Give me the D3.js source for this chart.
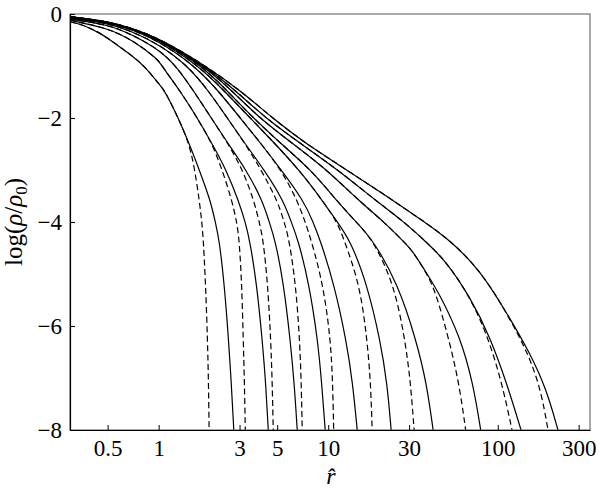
<!DOCTYPE html>
<html>
<head>
<meta charset="utf-8">
<script src="https://d3js.org/d3.v7.min.js"></script>
<style>
  body { margin: 0; background: #fff; }
  svg text { font-family: "Liberation Serif", "Times New Roman", serif; fill: #000; }
</style>
</head>
<body>
<div id="chart"></div>
<script>
// tick values
const xTicks = [0.5, 1, 3, 5, 10, 30, 100, 300];
const yTicks = [0, -2, -4, -6, -8];

// solid curves, [r, log(rho/rho0)], innermost first
const solid1 = [[0.3,-0.15],[0.355,-0.2],[0.453,-0.37],[0.519,-0.5],[0.71,-0.82],[0.823,-1],[1.037,-1.4],[1.095,-1.5],[1.307,-2],[1.517,-2.5],[1.737,-3],[2.017,-3.58],[2.159,-4],[2.279,-4.35],[2.439,-5.2],[2.585,-6.27],[2.682,-7.1],[2.774,-8]];
const solid2 = [[0.3,-0.12],[0.5,-0.27],[0.7,-0.5],[1,-0.88],[1.044,-1],[1.352,-1.5],[1.691,-2],[2.072,-2.5],[2.506,-3],[2.949,-3.58],[3.243,-4],[3.446,-4.35],[3.79,-5.2],[4.084,-6.27],[4.282,-7.1],[4.43,-8]];
const solid3 = [[0.3,-0.1],[0.5,-0.2],[0.7,-0.4],[1,-0.68],[1.271,-1],[1.623,-1.5],[2.044,-2],[2.575,-2.5],[3.287,-3],[4.084,-3.58],[4.49,-4],[4.872,-4.35],[5.468,-5.2],[5.971,-6.27],[6.305,-7.1],[6.566,-8]];
const solid4 = [[0.3,-0.085],[0.5,-0.17],[0.7,-0.34],[1,-0.58],[1.496,-1],[1.99,-1.5],[2.54,-2],[3.243,-2.5],[4.197,-3],[5.43,-3.58],[6.053,-4],[6.657,-4.35],[7.727,-5.2],[8.676,-6.27],[9.156,-7.1],[9.6,-8]];
const solid5 = [[0.3,-0.075],[0.5,-0.155],[0.7,-0.3],[1,-0.52],[1.645,-1],[2.279,-1.5],[3.03,-2],[4.029,-2.5],[5.285,-3],[7.125,-3.58],[8.158,-4],[8.974,-4.35],[10.85,-5.2],[12.77,-6.27],[13.95,-7.1],[14.83,-8]];
const solid6 = [[0.3,-0.065],[0.5,-0.15],[0.7,-0.29],[1,-0.49],[1.737,-1],[2.472,-1.5],[3.47,-2],[4.872,-2.5],[6.747,-3],[9.218,-3.58],[11.3,-4],[13.48,-4.35],[16.98,-5.2],[20.25,-6.27],[22.27,-7.1],[23.51,-8]];
const solid7 = [[0.3,-0.06],[0.5,-0.145],[0.7,-0.285],[1,-0.48],[1.809,-1],[2.575,-1.5],[3.614,-2],[5.285,-2.5],[7.941,-3],[11.15,-3.58],[14.62,-4],[18.42,-4.35],[25.85,-5.2],[33.01,-6.27],[38.06,-7.1],[41.57,-8]];
const solid8 = [[0.3,-0.055],[0.5,-0.143],[0.7,-0.283],[1,-0.47],[1.859,-1],[2.755,-1.5],[3.922,-2],[6.22,-2.5],[9.865,-3],[15.03,-3.58],[21.36,-4],[27.3,-4.35],[31.26,-4.54],[38.32,-5],[45.09,-5.37],[59.95,-6.2],[71.54,-7.1],[79.3,-8]];
const solid9 = [[0.3,-0.052],[0.5,-0.142],[0.7,-0.282],[1,-0.465],[1.884,-1],[2.909,-1.5],[4.255,-2],[6.934,-2.5],[11.46,-3],[18.92,-3.58],[28.08,-4],[36.83,-4.35],[48.95,-4.73],[68.7,-5.44],[90.08,-6.21],[113,-7.1],[137.2,-8]];
const solid10 = [[0.3,-0.05],[0.5,-0.14],[0.7,-0.28],[1,-0.46],[1.91,-1],[3.113,-1.5],[4.677,-2],[7.419,-2.5],[12.89,-3],[21.1,-3.46],[31.7,-3.85],[50.06,-4.29],[78.77,-4.92],[113,-5.75],[155,-6.52],[194.4,-7.23],[226.6,-8]];

// dashed curves follow their solid partner down to splitAt, then these tails
const splitAt = [-2.5, -2.5, -2.5, -2.5, -3, -4, -4.35, -5, -5.44, -5.75];
const tail1 = [[1.634,-3],[1.737,-3.58],[1.797,-4],[1.835,-4.35],[1.892,-5.2],[1.942,-6.27],[1.968,-7.1],[1.984,-8]];
const tail2 = [[2.373,-3],[2.7,-3.58],[2.889,-4],[2.989,-4.35],[3.092,-5.2],[3.155,-6.27],[3.207,-7.1],[3.243,-8]];
const tail3 = [[3.134,-3],[3.639,-3.58],[3.922,-4],[4.14,-4.35],[4.401,-5.2],[4.584,-6.27],[4.677,-7.1],[4.741,-8]];
const tail4 = [[4.029,-3],[5.006,-3.58],[5.505,-4],[5.891,-4.35],[6.435,-5.2],[6.793,-6.27],[6.934,-7.1],[7.029,-8]];
const tail5 = [[6.566,-3.58],[7.318,-4],[7.941,-4.35],[9.343,-5.2],[10.34,-6.27],[10.63,-7.1],[10.77,-8]];
const tail6 = [[12.43,-4.35],[15.36,-5.2],[16.98,-6.27],[17.8,-7.1],[18.17,-8]];
const tail7 = [[24.49,-5.2],[28.43,-6.27],[30.63,-7.1],[32.11,-8]];
const tail8 = [[43.29,-5.37],[51.64,-6.27],[59.15,-7.1],[64.69,-8]];
const tail9 = [[87.66,-6.21],[106,-7.1],[121.4,-8]];
const tail10 = [[150.9,-6.52],[179.9,-7.23],[197.9,-8]];

const solids = [solid1, solid2, solid3, solid4, solid5, solid6, solid7, solid8, solid9, solid10];
const tails = [tail1, tail2, tail3, tail4, tail5, tail6, tail7, tail8, tail9, tail10];
const dashed = solids.map((s, i) => s.filter(p => p[1] >= splitAt[i]).concat(tails[i]));

const width = 600, height = 489;
const m = { left: 70, right: 10, top: 14, bottom: 59 };

const svg = d3.select("#chart").append("svg")
    .attr("width", width)
    .attr("height", height);

const x = d3.scaleLog().domain([0.3, 350]).range([m.left, width - m.right]);
const y = d3.scaleLinear().domain([-8, 0]).range([height - m.bottom, m.top]);

svg.append("clipPath").attr("id", "plot")
  .append("rect")
    .attr("x", m.left).attr("y", m.top)
    .attr("width", width - m.left - m.right)
    .attr("height", height - m.top - m.bottom);

// smooth spline through the read-off points
const line = d3.line()
    .x(d => x(d[0]))
    .y(d => y(d[1]))
    .curve(d3.curveBasis);

const g = svg.append("g").attr("clip-path", "url(#plot)");

g.selectAll(".solid")
  .data(solids)
  .enter().append("path")
    .attr("class", "solid")
    .attr("d", line)
    .attr("fill", "none")
    .attr("stroke", "#000")
    .attr("stroke-width", 1.2);

g.selectAll(".dashed")
  .data(dashed)
  .enter().append("path")
    .attr("class", "dashed")
    .attr("d", line)
    .attr("fill", "none")
    .attr("stroke", "#000")
    .attr("stroke-width", 1.2)
    .attr("stroke-dasharray", "6,3.5");

// frame
svg.append("rect")
    .attr("x", m.left).attr("y", m.top)
    .attr("width", width - m.left - m.right)
    .attr("height", height - m.top - m.bottom)
    .attr("fill", "none")
    .attr("stroke", "#555")
    .attr("stroke-width", 1);

// axes, ticks pointing inward
const xAxis = svg.append("g")
    .attr("transform", `translate(0,${height - m.bottom})`)
    .call(d3.axisBottom(x).tickValues(xTicks).tickFormat(d3.format("")).tickSizeInner(-5).tickSizeOuter(0).tickPadding(10));

const yAxis = svg.append("g")
    .attr("transform", `translate(${m.left},0)`)
    .call(d3.axisLeft(y).tickValues(yTicks).tickFormat(d => d === 0 ? "0" : "\u2212" + Math.abs(d)).tickSizeInner(-5).tickSizeOuter(0).tickPadding(8));

[xAxis, yAxis].forEach(a => {
  a.attr("font-family", null).attr("font-size", null);
  a.select(".domain").attr("stroke", "#000").attr("stroke-width", 1.2);
  a.selectAll(".tick line").attr("stroke", "#000");
  a.selectAll(".tick text").attr("font-size", 23);
});

// axis titles
svg.append("text")
    .attr("x", 331).attr("y", 484)
    .attr("text-anchor", "middle")
    .attr("font-size", 24)
    .attr("font-style", "italic")
    .text("r\u0302");

const yt = svg.append("text")
    .attr("transform", "translate(22,222) rotate(-90)")
    .attr("text-anchor", "middle")
    .attr("font-size", 25);
yt.append("tspan").text("log(");
yt.append("tspan").attr("font-style", "italic").text("\u03c1");
yt.append("tspan").text("/");
yt.append("tspan").attr("font-style", "italic").text("\u03c1");
yt.append("tspan").attr("font-size", 17).attr("dy", 5).text("0");
yt.append("tspan").attr("dy", -5).text(")");
</script>
</body>
</html>
